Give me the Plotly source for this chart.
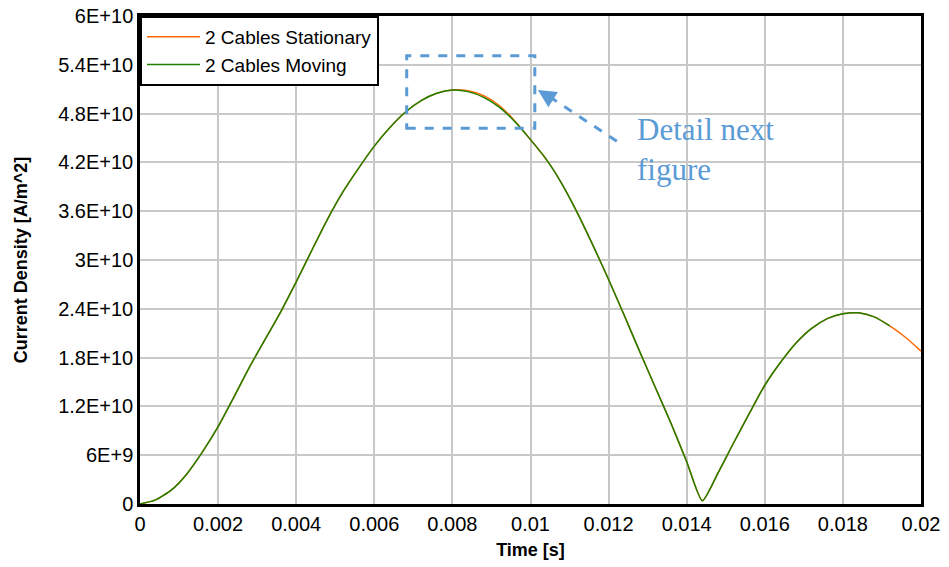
import plotly.graph_objects as go

time_s = [0.0000, 0.0004, 0.0008, 0.0012, 0.0016, 0.0020, 0.0024, 0.0028, 0.0032, 0.0036,
          0.0040, 0.0044, 0.0048, 0.0052, 0.0056, 0.0060, 0.0064, 0.0068, 0.0072, 0.0076,
          0.0080, 0.0084, 0.0088, 0.0092, 0.0096, 0.0100, 0.0104, 0.0108, 0.0112, 0.0116,
          0.0120, 0.0124, 0.0128, 0.0132, 0.0136, 0.0140, 0.0144, 0.0148, 0.0152, 0.0156,
          0.0160, 0.0164, 0.0168, 0.0172, 0.0176, 0.0180, 0.0184, 0.0188, 0.0192, 0.0196,
          0.0200]

# values in units of 1e9 A/m^2
stationary_e9 = [0.0, 0.5, 1.7, 3.7, 6.4, 9.5, 13.1, 16.8, 20.2, 23.6,
                 27.3, 31.2, 35.0, 38.4, 41.3, 44.0, 46.3, 48.2, 49.6, 50.5,
                 50.9, 50.8, 50.2, 49.0, 47.1, 44.8, 42.4, 39.4, 35.8, 31.8,
                 27.6, 23.2, 18.7, 14.3, 9.9, 5.2, 0.4, 3.8, 7.5, 11.1,
                 14.6, 17.4, 19.8, 21.6, 22.8, 23.4, 23.5, 23.0, 21.9, 20.5,
                 18.8]
moving_e9 = [0.0, 0.5, 1.7, 3.7, 6.4, 9.5, 13.1, 16.8, 20.2, 23.6,
             27.3, 31.2, 35.0, 38.4, 41.3, 44.0, 46.3, 48.2, 49.6, 50.5,
             50.9, 50.7, 50.0, 48.8, 47.0, 44.8, 42.4, 39.4, 35.8, 31.8,
             27.6, 23.2, 18.7, 14.3, 9.9, 5.2, 0.4, 3.8, 7.5, 11.1,
             14.6, 17.4, 19.8, 21.6, 22.8, 23.4, 23.5, 23.0, 21.9, None,
             None]

y_tickvals = [0, 6e9, 1.2e10, 1.8e10, 2.4e10, 3e10, 3.6e10, 4.2e10, 4.8e10, 5.4e10, 6e10]
y_ticktext = ["0", "6E+9", "1.2E+10", "1.8E+10", "2.4E+10", "3E+10", "3.6E+10",
              "4.2E+10", "4.8E+10", "5.4E+10", "6E+10"]
x_tickvals = [0, 0.002, 0.004, 0.006, 0.008, 0.01, 0.012, 0.014, 0.016, 0.018, 0.02]
x_ticktext = ["0", "0.002", "0.004", "0.006", "0.008", "0.01", "0.012", "0.014",
              "0.016", "0.018", "0.02"]

stationary = [v * 1e9 for v in stationary_e9]
moving = [None if v is None else v * 1e9 for v in moving_e9]

fig = go.Figure()
fig.add_trace(go.Scatter(x=time_s, y=stationary, mode="lines", name="2 Cables Stationary",
                         line=dict(color="#FF6A00", width=1.5, shape="spline", smoothing=0.6)))
fig.add_trace(go.Scatter(x=time_s, y=moving, mode="lines", name="2 Cables Moving",
                         line=dict(color="#1E8000", width=1.5, shape="spline", smoothing=0.6)))

blue = "#5B9BD5"
# detail box
fig.add_shape(type="rect", x0=0.00683, x1=0.01011, y0=4.62e10, y1=5.51e10,
              line=dict(color=blue, width=3, dash="dash"), fillcolor="rgba(0,0,0,0)")
# dashed arrow shaft
fig.add_shape(type="line", x0=0.01221, y0=4.46e10, x1=0.01048, y1=5.01e10,
              line=dict(color=blue, width=3, dash="dash"))
# arrow head
fig.add_annotation(x=0.01019, y=5.09e10, ax=0.01052, ay=4.99e10,
                   xref="x", yref="y", axref="x", ayref="y",
                   showarrow=True, arrowhead=2, arrowsize=1.2, arrowwidth=3,
                   arrowcolor=blue, text="")
fig.add_annotation(x=0.01268, y=4.36e10, xref="x", yref="y", xanchor="left", yanchor="middle",
                   text="Detail next<br>figure", showarrow=False, align="left",
                   font=dict(family="Liberation Serif, Times New Roman, serif", size=31, color=blue))

axis_font = dict(family="Liberation Sans, Arial, sans-serif", size=20, color="black")
title_font = dict(family="Liberation Sans, Arial, sans-serif", size=18, color="black")
fig.update_layout(
    width=949, height=567,
    margin=dict(l=140, r=28, t=16, b=63),
    paper_bgcolor="white", plot_bgcolor="white",
    font=dict(family="Liberation Sans, Arial, sans-serif", color="black"),
    showlegend=True,
    legend=dict(x=0, y=1, xanchor="left", yanchor="top", bgcolor="white",
                bordercolor="black", borderwidth=2,
                font=dict(family="Liberation Sans, Arial, sans-serif", size=19, color="black"),
                tracegroupgap=0, itemwidth=53),
    xaxis=dict(range=[0, 0.02], tickvals=x_tickvals, ticktext=x_ticktext, automargin=False,
               showgrid=True, gridcolor="#C8C8C8", gridwidth=1.5,
               showline=True, linecolor="black", linewidth=2.5, mirror=True,
               ticks="", tickfont=axis_font, zeroline=False,
               title=dict(text="<b>Time [s]</b>", font=title_font, standoff=10)),
    yaxis=dict(range=[0, 6e10], tickvals=y_tickvals, ticktext=y_ticktext, automargin=False,
               showgrid=True, gridcolor="#C8C8C8", gridwidth=1.5,
               showline=True, linecolor="black", linewidth=2.5, mirror=True,
               ticks="", tickfont=axis_font, zeroline=False,
               title=dict(text="<b>Current Density [A/m^2]</b>", font=title_font, standoff=26)),
)

fig.write_html("out.html", config={"displayModeBar": False},
               post_script="document.body.style.margin='0';document.body.style.overflow='hidden';")
